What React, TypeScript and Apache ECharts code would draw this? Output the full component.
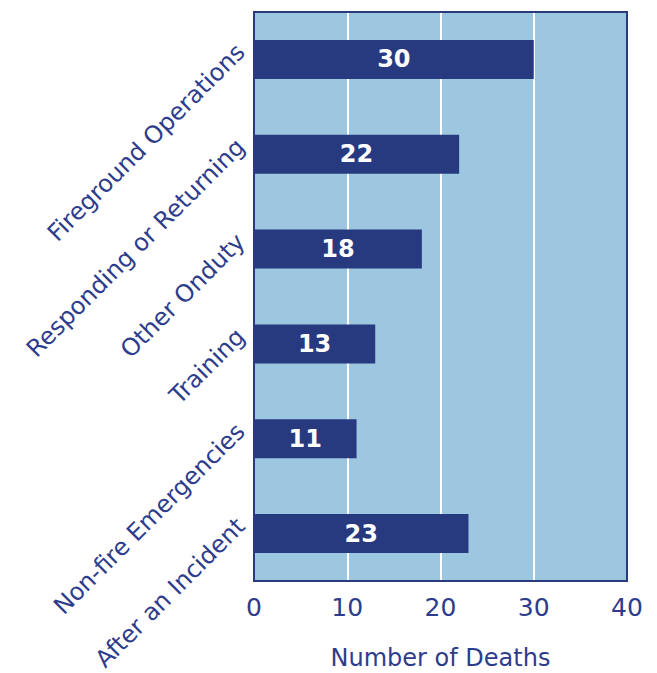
import React, { useEffect, useRef } from "react";
import * as echarts from "echarts";

const categories = [
  "Fireground Operations",
  "Responding or Returning",
  "Other Onduty",
  "Training",
  "Non-fire Emergencies",
  "After an Incident",
];
const deaths = [30, 22, 18, 13, 11, 23];
const xTicks = { min: 0, max: 40, interval: 10 };

const TEXT = "#2e3c8c";
const FONT = "DejaVu Sans, Verdana, sans-serif";

const GRID = { left: 254, top: 12, right: 30, bottom: 92 };
const W = 657;
const H = 673;

export default function App() {
  const ref = useRef<HTMLDivElement>(null);
  useEffect(() => {
    document.body.style.margin = "0";
    const chart = echarts.init(ref.current!, undefined, { renderer: "svg" });
    chart.setOption({
      animation: false,
      backgroundColor: "#ffffff",
      grid: {
        ...GRID,
        containLabel: false,
        outerBoundsMode: "none",
        show: true,
        backgroundColor: "#9dc6e0",
        borderColor: "#2b3a7c",
        borderWidth: 2,
      },
      graphic: [
        {
          type: "rect",
          z: 100,
          silent: true,
          shape: {
            x: GRID.left,
            y: GRID.top,
            width: W - GRID.left - GRID.right,
            height: H - GRID.top - GRID.bottom,
          },
          style: { fill: "none", stroke: "#2b3a7c", lineWidth: 2 },
        },
      ],
      xAxis: {
        type: "value",
        min: xTicks.min,
        max: xTicks.max,
        interval: xTicks.interval,
        axisLine: { show: false },
        axisTick: { show: false },
        splitLine: { show: true, lineStyle: { color: "#ffffff", width: 2 } },
        axisLabel: {
          fontSize: 25,
          color: TEXT,
          margin: 14,
          fontFamily: FONT,
        },
        name: "Number of Deaths",
        nameLocation: "middle",
        nameGap: 65,
        nameTextStyle: {
          fontSize: 24,
          color: TEXT,
          fontFamily: FONT,
        },
      },
      yAxis: {
        type: "category",
        inverse: true,
        data: categories,
        axisLine: { show: false },
        axisTick: { show: false },
        splitLine: { show: false },
        axisLabel: {
          rotate: 45,
          fontSize: 24,
          color: TEXT,
          margin: 2,
          verticalAlign: "bottom",
          padding: [0, 0, 4, 0],
          fontFamily: FONT,
        },
      },
      series: [
        {
          type: "bar",
          data: deaths,
          barWidth: 39,
          itemStyle: { color: "#273a80" },
          label: {
            show: true,
            position: "inside",
            color: "#ffffff",
            fontWeight: "bold",
            fontSize: 24,
            fontFamily: FONT,
          },
        },
      ],
    });
    return () => chart.dispose();
  }, []);
  return <div ref={ref} style={{ width: W, height: H }} />;
}
